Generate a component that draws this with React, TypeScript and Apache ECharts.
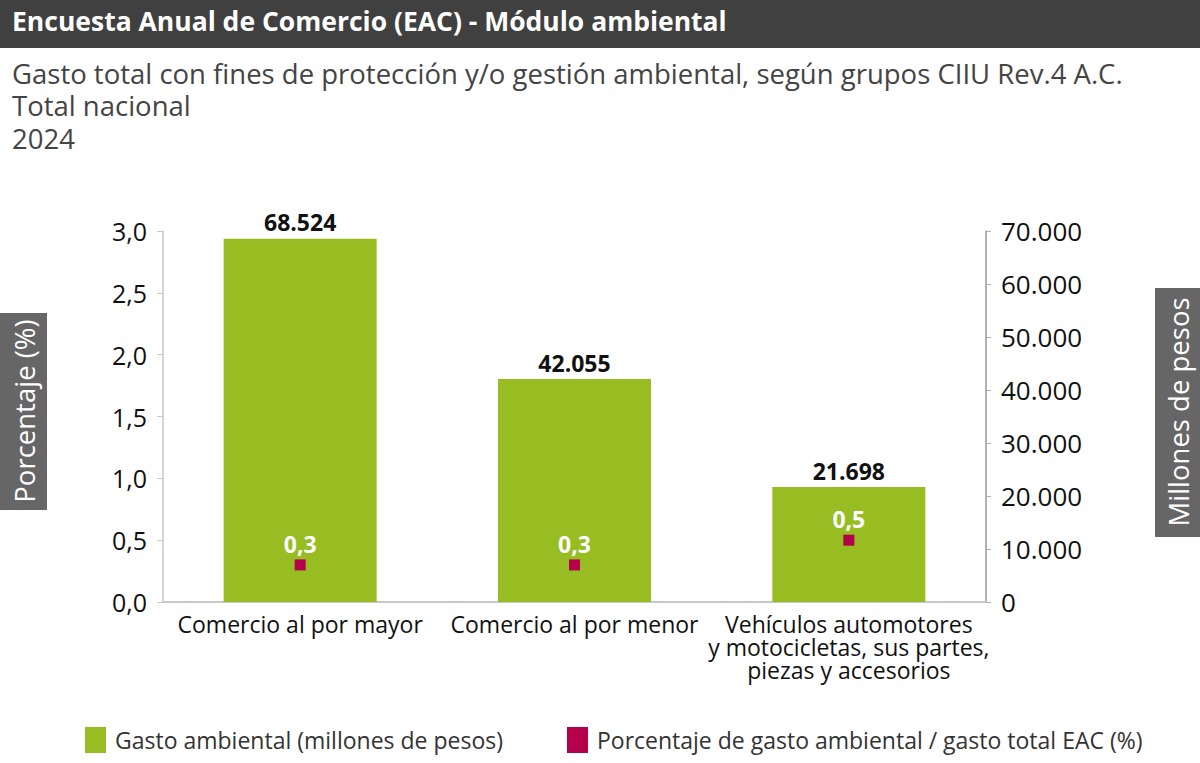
import React, { useEffect, useRef } from "react";
import * as echarts from "echarts";

const categories = [
  "Comercio al por mayor",
  "Comercio al por menor",
  "Vehículos automotores\ny motocicletas, sus partes,\npiezas y accesorios",
];
const gastoAmbiental = [68524, 42055, 21698];
const porcentajeGasto = [0.3, 0.3, 0.5];

const titleText = "Encuesta Anual de Comercio (EAC) - Módulo ambiental";
const subtitleLines = [
  "Gasto total con fines de protección y/o gestión ambiental, según grupos CIIU Rev.4 A.C.",
  "Total nacional",
  "2024",
];
const seriesNames = [
  "Gasto ambiental (millones de pesos)",
  "Porcentaje de gasto ambiental / gasto total EAC (%)",
];
const leftAxisName = "Porcentaje (%)";
const rightAxisName = "Millones de pesos";

const GREEN = "#97bd22";
const CRIMSON = "#b5004b";
const FONT = "'Open Sans', 'Noto Sans', sans-serif";

const fmtThousands = (v: number) =>
  Math.round(v)
    .toString()
    .replace(/\B(?=(\d{3})+(?!\d))/g, ".");
const fmtDecimal = (v: number) => v.toFixed(1).replace(".", ",");

export default function App() {
  const ref = useRef<HTMLDivElement>(null);

  useEffect(() => {
    if (!ref.current) return;
    const chart = echarts.init(ref.current, undefined, { renderer: "svg" });

    const option: any = {
      animation: false,
      backgroundColor: "#ffffff",
      textStyle: { fontFamily: FONT },
      grid: { left: 163, right: 214, top: 231, bottom: 161, containLabel: false },
      legend: {
        left: 80,
        top: 722,
        icon: "rect",
        itemWidth: 21,
        itemHeight: 26,
        itemGap: 64,
        textStyle: { fontFamily: FONT, fontSize: 23, color: "#333333", padding: [0, 0, 0, 4] },
        data: [
          { name: seriesNames[0], itemStyle: { color: GREEN, opacity: 1 } },
          { name: seriesNames[1], itemStyle: { color: CRIMSON, opacity: 1 } },
        ],
      },
      xAxis: {
        type: "category",
        data: categories,
        axisLine: { lineStyle: { color: "#c8c8c8", width: 2 } },
        axisTick: { show: false },
        axisLabel: {
          color: "#111111",
          fontSize: 23,
          fontFamily: FONT,
          margin: 10,
          lineHeight: 23,
          align: "center",
          interval: 0,
        },
      },
      yAxis: [
        {
          type: "value",
          min: 0,
          max: 3,
          interval: 0.5,
          position: "left",
          axisLine: { show: true, lineStyle: { color: "#c8c8c8", width: 1.5 } },
          axisTick: { show: true, length: 6, lineStyle: { color: "#c8c8c8" } },
          splitLine: { show: false },
          axisLabel: {
            color: "#111111",
            fontSize: 25,
            fontFamily: FONT,
            margin: 16,
            formatter: (v: number) => fmtDecimal(v),
          },
        },
        {
          type: "value",
          min: 0,
          max: 70000,
          interval: 10000,
          position: "right",
          axisLine: { show: true, lineStyle: { color: "#9a9a9a", width: 1.5 } },
          axisTick: { show: true, length: 5, lineStyle: { color: "#b0b0b0" } },
          splitLine: { show: false },
          axisLabel: {
            color: "#111111",
            fontSize: 26,
            fontFamily: FONT,
            margin: 15,
            formatter: (v: number) => fmtThousands(v),
          },
        },
      ],
      series: [
        {
          name: seriesNames[0],
          type: "bar",
          yAxisIndex: 1,
          data: gastoAmbiental,
          barWidth: 153,
          itemStyle: { color: GREEN },
          label: {
            show: true,
            position: "top",
            distance: 5,
            color: "#111111",
            fontSize: 23,
            fontWeight: "bold",
            fontFamily: FONT,
            formatter: (p: any) => fmtThousands(p.value),
          },
          z: 2,
        },
        {
          name: seriesNames[1],
          type: "scatter",
          yAxisIndex: 0,
          data: porcentajeGasto,
          symbol: "rect",
          symbolSize: 11,
          itemStyle: { color: CRIMSON, opacity: 1 },
          label: {
            show: true,
            position: "top",
            distance: 4,
            color: "#ffffff",
            fontSize: 23,
            fontWeight: "bold",
            fontFamily: FONT,
            formatter: (p: any) => fmtDecimal(p.value),
          },
          z: 3,
        },
      ],
      graphic: [
        {
          type: "rect",
          shape: { x: 0, y: 0, width: 1200, height: 48 },
          style: { fill: "#404040" },
          silent: true,
        },
        {
          type: "text",
          left: 12,
          top: 7,
          style: {
            text: titleText,
            fill: "#ffffff",
            font: `bold 26.5px ${FONT}`,
          },
        },
        ...subtitleLines.map((line, i) => ({
          type: "text",
          left: 12,
          top: 59 + i * 32.5,
          style: {
            text: line,
            fill: "#444444",
            font: `27.5px ${FONT}`,
          },
        })),
        {
          type: "rect",
          shape: { x: 0, y: 313, width: 47, height: 197 },
          style: { fill: "#666666" },
          silent: true,
        },
        {
          type: "text",
          x: 24,
          y: 411,
          rotation: Math.PI / 2,
          style: {
            text: leftAxisName,
            fill: "#ffffff",
            font: `27.5px ${FONT}`,
            align: "center",
            verticalAlign: "middle",
          },
        },
        {
          type: "rect",
          shape: { x: 1155, y: 288, width: 45, height: 249 },
          style: { fill: "#666666" },
          silent: true,
        },
        {
          type: "text",
          x: 1178,
          y: 412,
          rotation: Math.PI / 2,
          style: {
            text: rightAxisName,
            fill: "#ffffff",
            font: `27.5px ${FONT}`,
            align: "center",
            verticalAlign: "middle",
          },
        },
      ],
    };

    chart.setOption(option);
    return () => chart.dispose();
  }, []);

  return (
    <div
      ref={ref}
      style={{ position: "fixed", left: 0, top: 0, width: 1200, height: 763 }}
    />
  );
}
